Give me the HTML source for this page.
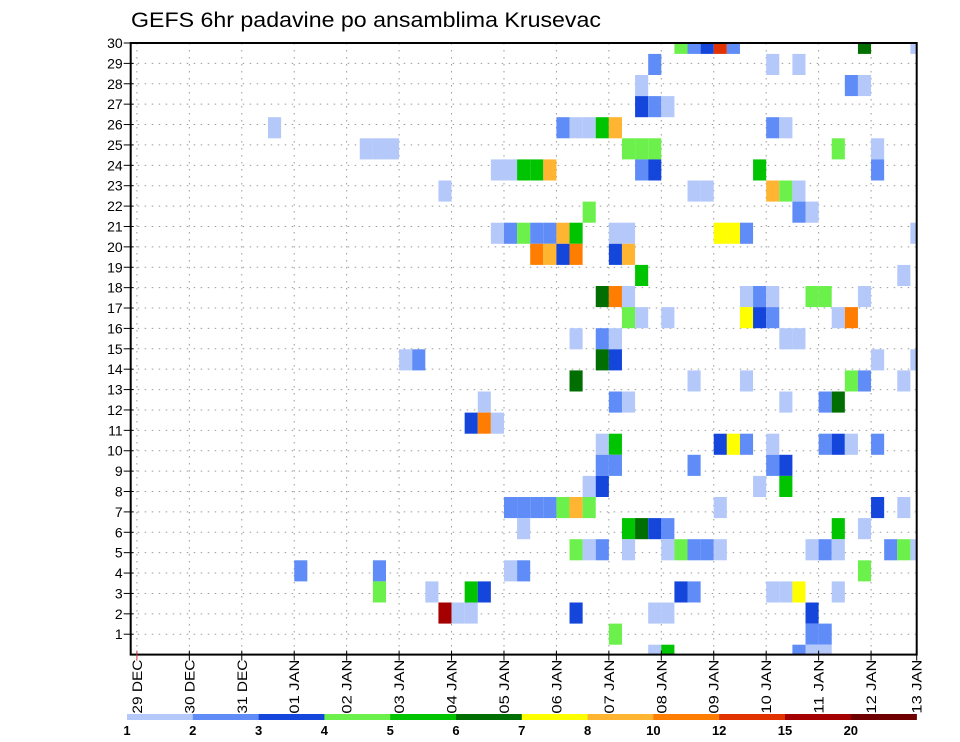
<!DOCTYPE html>
<html><head><meta charset="utf-8"><title>GEFS 6hr padavine po ansamblima Krusevac</title>
<style>
html,body{margin:0;padding:0;background:#fff;}
svg{display:block;font-family:"Liberation Sans",sans-serif;}
</style></head>
<body>
<svg id="chart" width="960" height="742" viewBox="0 0 960 742" xmlns="http://www.w3.org/2000/svg">
<text x="131" y="27" font-size="21" textLength="470" lengthAdjust="spacingAndGlyphs" fill="#000">GEFS 6hr padavine po ansamblima Krusevac</text>
<g id="grid"></g>
<g id="cells"></g>
<g id="axes"></g>
<g id="legend"></g>
</svg>
<script>
// ---- data ----
const dayLabels = ["29 DEC","30 DEC","31 DEC","01 JAN","02 JAN","03 JAN","04 JAN","05 JAN","06 JAN","07 JAN","08 JAN","09 JAN","10 JAN","11 JAN","12 JAN","13 JAN"];
const memberTicks = [1,2,3,4,5,6,7,8,9,10,11,12,13,14,15,16,17,18,19,20,21,22,23,24,25,26,27,28,29,30];
const levelLabels = ["1","2","3","4","5","6","7","8","10","12","15","20"];
const levelThresholds = [1,2,3,4,5,6,7,8,10,12,15,20];
const levelColors = ["#b4c8fa","#5f8cf7","#1446dc","#6cf04c","#00c400","#006e00","#ffff00","#ffb432","#ff7d00","#e13200","#a50000","#6e0000"];
// each cell: time step (6h index from 29 DEC 00z), ensemble band, precip (mm)
const cellStep = [
41,42,43,44,45,55,59,
39,48,50,
38,54,55,
38,39,40,
10,32,33,34,35,36,48,49,
17,18,19,37,38,39,53,56,
27,28,29,30,31,38,39,47,56,
23,42,43,48,49,50,
34,50,51,
27,28,29,30,31,32,33,36,37,44,45,46,59,
30,31,32,33,36,37,
38,58,
35,36,37,46,47,48,51,52,55,
37,38,40,46,47,48,53,54,
33,35,36,49,50,
20,21,35,36,56,59,
33,42,46,54,55,58,
26,36,37,49,52,53,
25,26,27,
35,36,44,45,46,48,52,53,54,56,
35,36,42,48,49,
34,35,47,49,
28,29,30,31,32,33,34,44,56,58,
29,37,38,39,40,53,55,
33,34,35,37,40,41,42,43,44,51,52,53,57,58,59,
12,18,28,29,55,
18,22,25,26,41,42,48,49,50,53,
23,24,25,33,39,40,51,
36,51,52,
39,40,50,51,52
];
const cellMember = [
29,29,29,29,29,29,29,
28,28,28,
27,27,27,
26,26,26,
25,25,25,25,25,25,25,25,
24,24,24,24,24,24,24,24,
23,23,23,23,23,23,23,23,23,
22,22,22,22,22,22,
21,21,21,
20,20,20,20,20,20,20,20,20,20,20,20,20,
19,19,19,19,19,19,
18,18,
17,17,17,17,17,17,17,17,17,
16,16,16,16,16,16,16,16,
15,15,15,15,15,
14,14,14,14,14,14,
13,13,13,13,13,13,
12,12,12,12,12,12,
11,11,11,
10,10,10,10,10,10,10,10,10,10,
9,9,9,9,9,
8,8,8,8,
7,7,7,7,7,7,7,7,7,7,
6,6,6,6,6,6,6,
5,5,5,5,5,5,5,5,5,5,5,5,5,5,5,
4,4,4,4,4,
3,3,3,3,3,3,3,3,3,3,
2,2,2,2,2,2,2,
1,1,1,
0,0,0,0,0
];
const cellValue = [
4.5,2.5,3.5,13,2.5,6.5,1.5,
2.5,1.5,1.5,
1.5,2.5,1.5,
3.5,2.5,1.5,
1.5,2.5,1.5,1.5,5.5,9,2.5,1.5,
1.5,1.5,1.5,4.5,4.5,4.5,4.5,1.5,
1.5,1.5,5.5,5.5,9,2.5,3.5,5.5,2.5,
1.5,1.5,1.5,9,4.5,1.5,
4.5,2.5,1.5,
1.5,2.5,4.5,2.5,2.5,9,5.5,1.5,1.5,7.5,7.5,2.5,1.5,
11,9,3.5,11,3.5,9,
5.5,1.5,
6.5,11,1.5,1.5,2.5,1.5,4.5,4.5,1.5,
4.5,1.5,1.5,7.5,3.5,2.5,1.5,11,
1.5,2.5,1.5,1.5,1.5,
1.5,2.5,6.5,3.5,1.5,1.5,
6.5,1.5,1.5,4.5,2.5,1.5,
1.5,2.5,1.5,1.5,2.5,6.5,
3.5,11,1.5,
1.5,5.5,3.5,7.5,2.5,1.5,2.5,3.5,1.5,2.5,
2.5,2.5,2.5,2.5,3.5,
1.5,3.5,1.5,5.5,
2.5,2.5,2.5,2.5,4.5,9,4.5,1.5,3.5,1.5,
1.5,5.5,6.5,3.5,2.5,5.5,1.5,
4.5,1.5,2.5,1.5,1.5,4.5,2.5,2.5,1.5,1.5,2.5,1.5,2.5,4.5,1.5,
2.5,2.5,1.5,2.5,4.5,
4.5,1.5,5.5,3.5,3.5,2.5,1.5,1.5,7.5,1.5,
17,1.5,1.5,3.5,1.5,1.5,3.5,
4.5,2.5,2.5,
1.5,5.5,2.5,1.5,1.5
];

// ---- geometry ----
const NS = "http://www.w3.org/2000/svg";
const PL = 130.7, PR = 916.7, PT = 43, PB = 654.6;
const STEP0 = 136.9, STEPW = 13.11;      // time axis
const BAND0 = 644.7, BANDH = 21.1;       // ensemble band axis
function xStep(k){ return STEP0 + k*STEPW; }
function xDay(d){ return STEP0 + d*4*STEPW; }
function yBandTop(j){ return BAND0 - j*BANDH; }
function yTick(m){ return PB - m*(PB-PT)/30; }
function colorFor(v){ let c=0; for(let i=0;i<levelThresholds.length;i++){ if(v>=levelThresholds[i]) c=i; } return levelColors[c]; }
function mk(tag, attrs, parent){ const e=document.createElementNS(NS,tag); for(const a in attrs) e.setAttribute(a,attrs[a]); parent.appendChild(e); return e; }

const grid = document.getElementById('grid');
const cells = document.getElementById('cells');
const axes = document.getElementById('axes');
const legend = document.getElementById('legend');

// grid lines
memberTicks.forEach(m=>{
  if(m>=30) return;
  const y=yTick(m);
  const l=mk('line',{x1:PL,x2:PR,y1:y,y2:y,stroke:'#999','stroke-width':1,'stroke-dasharray':'1.5 5.5'},grid);
  
  
});
dayLabels.forEach((lab,d)=>{
  const x=xDay(d);
  if(x>PR-2) return;
  const l=mk('line',{x1:x,x2:x,y1:PT,y2:PB,stroke:'#999','stroke-width':1,'stroke-dasharray':'1.5 5.5'},grid);
  
  
});

// cells
for(let i=0;i<cellStep.length;i++){
  let x1=Math.max(PL,xStep(cellStep[i])), x2=Math.min(PR,xStep(cellStep[i])+STEPW);
  let y1=Math.max(PT,yBandTop(cellMember[i])), y2=Math.min(PB,yBandTop(cellMember[i])+BANDH);
  const r=mk('rect',{x:x1,y:y1,width:x2-x1,height:y2-y1,fill:colorFor(cellValue[i])},cells);
  
  
}

// frame
const fr=mk('rect',{x:PL,y:PT,width:PR-PL,height:PB-PT,fill:'none',stroke:'#000','stroke-width':2},axes);



// y ticks & labels
memberTicks.forEach(m=>{
  const y=yTick(m);
  const t=mk('line',{x1:PL-7,x2:PL+3,y1:y,y2:y,stroke:'#000','stroke-width':1},axes);
  
  
  const tx=mk('text',{x:PL-8,y:y+5,'font-size':14,'text-anchor':'end',fill:'#000'},axes);
  tx.textContent=String(m);
  
  
});

// x ticks & labels
dayLabels.forEach((lab,d)=>{
  let x=xDay(d);
  if(x>PR) x=PR;
  const t=mk('line',{x1:x,x2:x,y1:PB-4,y2:PB+6,stroke:d===0?'#c33':'#000','stroke-width':1},axes);
  
  
  const tx=mk('text',{x:0,y:0,'font-size':14,'text-anchor':'end',fill:'#000',transform:'translate('+(x+5)+','+(PB+5)+') rotate(-90)',textLength:'54',lengthAdjust:'spacingAndGlyphs'},axes);
  tx.textContent=lab.split(' ')[0]+'  '+lab.split(' ')[1];
  
  
});

// colorbar
const LB0=127, LBW=(916.6-127)/12;
levelColors.forEach((c,i)=>{
  const r=mk('rect',{x:LB0+i*LBW,y:714,width:LBW+0.3,height:6,fill:c},legend);
  
  
});
levelLabels.forEach((lab,i)=>{
  const t=mk('text',{x:LB0+i*LBW,y:735,'font-size':13,'font-weight':'bold','text-anchor':'middle',fill:'#000'},legend);
  t.textContent=lab;
  
  
});
</script>
</body></html>
